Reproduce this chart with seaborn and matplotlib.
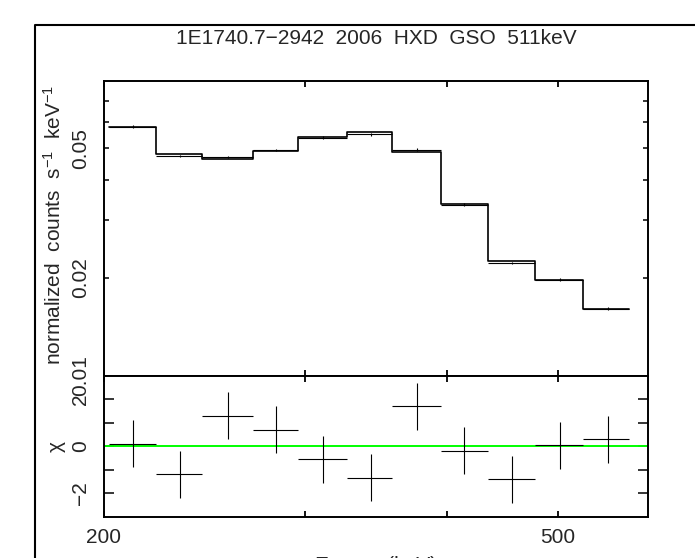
import numpy as np
import pandas as pd
import matplotlib
matplotlib.use('Agg')
import matplotlib.pyplot as plt
import seaborn as sns
from matplotlib.lines import Line2D
from matplotlib.ticker import FixedLocator, NullLocator, FixedFormatter

# spectral bins (keV)
bin_edges = [202, 222, 244, 270, 296, 327, 358, 395, 434, 478, 526, 578]
bin_mid = [212, 233, 257, 283, 311, 343, 376, 414, 456, 502, 553]

# folded model and data (normalized counts s^-1 keV^-1)
model_rate = [0.0582, 0.0479, 0.0464, 0.0490, 0.0542, 0.0560, 0.0486, 0.0336, 0.0225, 0.0197, 0.0160]
data_rate = [0.05826, 0.04733, 0.0470, 0.04934, 0.0539, 0.05524, 0.04943, 0.03353, 0.02219, 0.01971, 0.01605]
data_err = [0.00058, 0.00048, 0.00046, 0.00049, 0.00054, 0.00056, 0.00049, 0.00034, 0.00023, 0.00020, 0.00016]

# residuals (chi)
chi = [0.1, -1.2, 1.3, 0.7, -0.55, -1.35, 1.7, -0.2, -1.4, 0.05, 0.3]
chi_err = [1.0] * 11

sns.set_theme(style='ticks')
plt.rcParams['font.family'] = ['Liberation Sans', 'DejaVu Sans']
plt.rcParams['mathtext.default'] = 'regular'
plt.rcParams['font.size'] = 15

fig = plt.figure(figsize=(6.95, 5.58), dpi=100)
ax_top = fig.add_axes([0.1496, 0.3267, 0.7827, 0.5281])
ax_bot = fig.add_axes([0.1496, 0.0740, 0.7827, 0.2527], sharex=ax_top)

lo = np.array(bin_edges[:-1])
hi = np.array(bin_edges[1:])
mid = np.array(bin_mid)

# model as a histogram line
step_df = pd.DataFrame({'E': bin_edges, 'rate': model_rate + [model_rate[-1]]})
sns.lineplot(data=step_df, x='E', y='rate', ax=ax_top, drawstyle='steps-post',
             color='black', lw=1.2, estimator=None, sort=False)
ax_top.errorbar(mid, data_rate, xerr=[mid - lo, hi - mid], yerr=data_err,
                fmt='none', ecolor='black', elinewidth=0.8, capsize=0)

# residuals
ax_bot.errorbar(mid, chi, xerr=[mid - lo, hi - mid], yerr=chi_err,
                fmt='none', ecolor='black', elinewidth=0.8, capsize=0)
ax_bot.axhline(0, color='#00ff00', lw=1.4, zorder=1)

# axes scales and limits
for ax in (ax_top, ax_bot):
    ax.set_xscale('log')
    ax.set_xlim(200, 600)
    for s in ax.spines.values():
        s.set_linewidth(1.4)
        s.set_color('black')
    ax.set_xlabel('')
    ax.set_ylabel('')

ax_top.set_yscale('log')
ax_top.set_ylim(0.01, 0.0804)
ax_bot.set_ylim(-3, 3)

x_ticks = [200, 300, 400, 500]
x_labels = ['200', '', '', '500']
for ax in (ax_top, ax_bot):
    ax.xaxis.set_major_locator(FixedLocator(x_ticks))
    ax.xaxis.set_minor_locator(NullLocator())
    ax.tick_params(axis='x', which='both', direction='in', top=True, bottom=True,
                   length=4.2, width=1.3, color='black')
ax_top.tick_params(axis='x', labelbottom=False)
ax_bot.xaxis.set_major_formatter(FixedFormatter(x_labels))
ax_bot.tick_params(axis='x', pad=8, labelsize=15)

top_ticks = [0.01, 0.02, 0.03, 0.04, 0.05, 0.06, 0.07]
top_labels = ['0.01', '0.02', '', '', '0.05', '', '']
ax_top.yaxis.set_major_locator(FixedLocator(top_ticks))
ax_top.yaxis.set_minor_locator(NullLocator())
ax_top.yaxis.set_major_formatter(FixedFormatter(top_labels))
ax_top.tick_params(axis='y', which='both', direction='in', left=True, right=True,
                   length=3.6, width=1.3, pad=10, labelsize=15)

bot_ticks = [-2, -1, 0, 1, 2]
bot_labels = ['\u22122', '', '0', '', '2']
ax_bot.yaxis.set_major_locator(FixedLocator(bot_ticks))
ax_bot.yaxis.set_major_formatter(FixedFormatter(bot_labels))
ax_bot.tick_params(axis='y', direction='in', left=True, right=True,
                   length=7, width=1.3, pad=10, labelsize=15)

for ax in (ax_top, ax_bot):
    for lab in ax.get_yticklabels():
        lab.set_rotation(90)
        lab.set_va('center')

# labels
fig.text(0.541, 1 - 39 / 558, '1E1740.7\u22122942  2006  HXD  GSO  511keV',
         ha='center', va='center', fontsize=15)
fig.text(54 / 695, 1 - 225 / 558, r'normalized  counts  s$^{-1}$  keV$^{-1}$',
         rotation=90, ha='center', va='center', fontsize=15)
fig.text(56 / 695, 1 - 446 / 558, '\u03c7', rotation=90,
         ha='center', va='center', fontsize=15)
fig.text(0.541, 1 - 556 / 558, 'Energy (keV)', ha='center', va='top', fontsize=15)

# outer frame (left and top edges visible)
fx = 35 / 695
fy = 1 - 25 / 558
fig.add_artist(Line2D([fx, fx, 1.0], [0.0, fy, fy], transform=fig.transFigure,
                      color='black', lw=1.5))

fig.savefig('out.png', dpi=100)
